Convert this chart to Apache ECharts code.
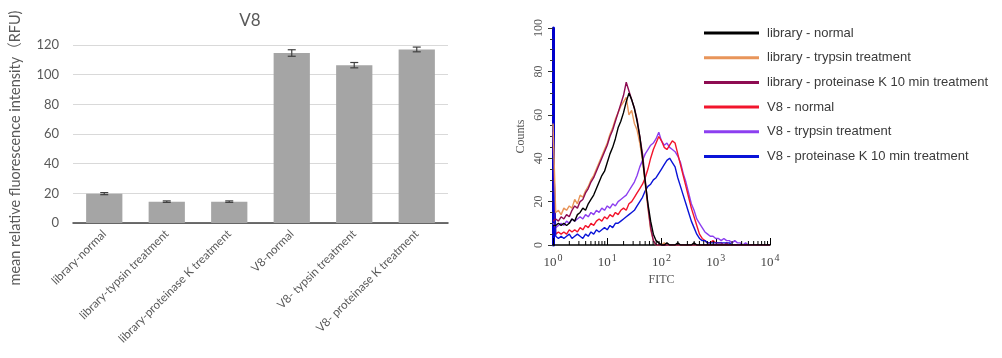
<!DOCTYPE html>
<html>
<head>
<meta charset="utf-8">
<title>V8</title>
<script src="https://cdn.jsdelivr.net/npm/echarts@6/dist/echarts.min.js"></script>
<style>
  html, body { margin: 0; padding: 0; background: #fff; }
  #chart { width: 1002px; height: 358px; }
</style>
</head>
<body>
<div id="chart"></div>
<script>
// left panel: mean fluorescence with error bars
const barCategories = [
  'library-normal',
  'library-typsin treatment',
  'library-proteinase K treatment',
  'V8-normal',
  'V8- typsin treatment',
  'V8- proteinase K treatment'
];
const barMeans = [19.8, 14.4, 14.4, 114.6, 106.4, 117.0];
const barErrors = [0.7, 0.5, 0.5, 2.2, 1.8, 1.6];

// right panel: flow histograms, x in decades (log10 FITC)
const fitcLog = [
  0, 0.05, 0.1, 0.15, 0.2, 0.25, 0.3, 0.35, 0.4, 0.45,
  0.5, 0.55, 0.6, 0.65, 0.7, 0.75, 0.8, 0.85, 0.9, 0.95,
  1, 1.05, 1.1, 1.15, 1.2, 1.25, 1.3, 1.35, 1.4, 1.45,
  1.5, 1.55, 1.6, 1.65, 1.7, 1.75, 1.8, 1.85, 1.9, 1.95,
  2, 2.05, 2.1, 2.15, 2.2, 2.25, 2.3, 2.35, 2.4, 2.45,
  2.5, 2.55, 2.6, 2.65, 2.7, 2.75, 2.8, 2.85, 2.9, 2.95,
  3, 3.05, 3.1, 3.15, 3.2, 3.25, 3.3, 3.35, 3.4, 3.45,
  3.5, 3.55, 3.6, 3.65, 3.7, 3.75, 3.8, 3.85, 3.9, 3.95,
  4
];
const fitcExponents = ['0', '1', '2', '3', '4'];

const libNormal = [
  9, 9, 10, 9, 10, 9, 10, 12, 11, 14,
  15, 17, 16, 19, 21, 23, 26, 29, 32, 34,
  38, 42, 45, 49, 54, 57, 61, 66, 70, 67,
  63, 57, 50, 40, 29, 19, 11, 5, 2, 1,
  0, 0, 1, 0, 0, 0, 1, 0, 0, 0,
  0, 0, 1, 0, 0, 0, 0, 0, 0, 0,
  0, 0, 0, 0, 0, 0, 0, 0, 0, 0,
  0, 0, 0, 0, 0, 0, 0, 0, 0, 0,
  0
];
const libTrypsin = [
  56, 15, 16, 14, 17, 16, 18, 17, 21, 19,
  23, 22, 25, 27, 30, 32, 35, 38, 41, 44,
  47, 51, 54, 58, 61, 64, 66, 68, 60, 62,
  56, 53, 47, 39, 28, 17, 7, 2, 0, 0,
  0, 1, 0, 0, 0, 0, 0, 0, 0, 0,
  0, 0, 0, 0, 0, 0, 0, 0, 0, 0,
  0, 0, 0, 0, 0, 0, 0, 0, 0, 0,
  0, 0, 0, 0, 0, 0, 0, 0, 0, 0,
  0
];
const libProtK = [
  11, 12, 11, 13, 12, 14, 13, 16, 18, 17,
  20, 21, 24, 26, 29, 31, 34, 37, 40, 43,
  46, 50, 53, 57, 61, 65, 69, 75, 71, 67,
  63, 58, 50, 42, 30, 18, 8, 2, 0, 0,
  0, 0, 0, 0, 0, 0, 0, 0, 0, 0,
  0, 0, 0, 0, 0, 0, 0, 0, 0, 0,
  0, 0, 0, 0, 0, 0, 0, 0, 0, 0,
  0, 0, 0, 0, 0, 0, 0, 0, 0, 0,
  0
];
const v8Normal = [
  52, 5, 6, 5, 6, 5, 7, 6, 7, 6,
  8, 7, 9, 8, 10, 9, 11, 12, 11, 13,
  12, 14, 13, 15, 14, 16, 17, 16, 19, 20,
  22, 24, 26, 28, 31, 35, 40, 44, 47, 50,
  48, 45, 44, 46, 48, 47, 42, 37, 32, 27,
  22, 17, 13, 9, 5, 3, 2, 1, 1, 2,
  1, 1, 1, 0, 1, 0, 0, 0, 0, 0,
  0, 0, 0, 0, 0, 0, 0, 0, 0, 0,
  0
];
const v8Trypsin = [
  10, 8, 9, 10, 9, 11, 10, 12, 11, 12,
  13, 12, 14, 13, 15, 14, 16, 15, 17, 16,
  18, 17, 19, 18, 20, 21, 22, 23, 25, 27,
  29, 32, 36, 39, 42, 44, 46, 47, 49, 52,
  48, 46, 47, 45, 44, 43, 41, 38, 33, 29,
  24, 19, 16, 12, 10, 8, 6, 5, 4, 4,
  3, 3, 2, 3, 2, 2, 1, 2, 1, 1,
  0, 1, 0, 0, 0, 0, 0, 0, 0, 0,
  0
];
const v8ProtK = [
  52, 4, 3, 4, 3, 4, 5, 3, 4, 5,
  4, 3, 5, 4, 6, 5, 7, 6, 7, 8,
  7, 9, 8, 10, 10, 11, 12, 13, 14, 15,
  16, 18, 20, 22, 25, 27, 28, 30, 31, 33,
  35, 37, 39, 40, 38, 36, 31, 27, 23, 19,
  15, 11, 8, 5, 3, 2, 2, 1, 1, 1,
  1, 1, 1, 1, 1, 1, 0, 0, 0, 0,
  0, 0, 0, 0, 0, 0, 0, 0, 0, 0,
  0
];

const histSeries = [
  { name: 'library - normal', values: libNormal, color: '#000000', z: 8 },
  { name: 'library - trypsin treatment', values: libTrypsin, color: '#e8955a', z: 6 },
  { name: 'library - proteinase K 10 min treatment', values: libProtK, color: '#8e0c52', z: 7 },
  { name: 'V8 - normal', values: v8Normal, color: '#f2152c', z: 4 },
  { name: 'V8 - trypsin treatment', values: v8Trypsin, color: '#8c3ff0', z: 3 },
  { name: 'V8 - proteinase K 10 min treatment', values: v8ProtK, color: '#0a14d8', z: 5 }
];

// minor ticks of the log axis (2..9 in each decade)
const minorTicks = [];
for (let d = 0; d < 4; d++) {
  for (let k = 2; k <= 9; k++) minorTicks.push([d + Math.log10(k), 0]);
}

const chart = echarts.init(document.getElementById('chart'));
const grayText = '#595959';
const sans = 'Lato, "Noto Sans CJK SC", sans-serif';
const serif = '"Liberation Serif", "DejaVu Serif", serif';

const option = {
  animation: false,
  title: {
    text: 'V8',
    left: 245,
    top: 7,
    textAlign: 'center',
    textStyle: { fontSize: 17, fontWeight: 'normal', color: grayText, fontFamily: sans }
  },
  legend: {
    data: histSeries.map(s => s.name),
    orient: 'vertical',
    left: 704,
    top: 26,
    padding: 0,
    icon: 'rect',
    itemWidth: 55,
    itemHeight: 3,
    itemGap: 10.7,
    textStyle: { fontSize: 13, lineHeight: 14, color: '#3a3a3a', fontFamily: '"Liberation Sans", Arial, sans-serif', padding: [0, 0, 0, 3] }
  },
  grid: [
    { left: 73, right: 554, top: 45, bottom: 135 },
    { left: 553, right: 232, top: 28, bottom: 113 }
  ],
  xAxis: [
    {
      gridIndex: 0,
      type: 'category',
      data: barCategories,
      axisLine: { lineStyle: { color: '#404040', width: 1.5 } },
      axisTick: { show: false },
      axisLabel: { interval: 0, rotate: 45, margin: 9, fontSize: 11.6, color: grayText, fontFamily: sans }
    },
    {
      gridIndex: 1,
      type: 'value',
      min: 0,
      max: 4,
      interval: 1,
      name: 'FITC',
      nameLocation: 'middle',
      nameGap: 22,
      nameTextStyle: { fontSize: 12, color: '#555', fontFamily: serif },
      axisLine: { lineStyle: { color: '#000', width: 1.5 } },
      axisTick: { inside: true, length: 7, lineStyle: { color: '#000' } },
      splitLine: { show: false },
      axisLabel: {
        margin: 8,
        formatter: v => '{b|10}{s|' + fitcExponents[Math.round(v)] + '}',
        rich: {
          b: { fontSize: 13, color: '#444', fontFamily: serif },
          s: { fontSize: 10, color: '#444', fontFamily: serif, padding: [0, 0, 9, 1] }
        }
      }
    }
  ],
  yAxis: [
    {
      gridIndex: 0,
      type: 'value',
      min: 0,
      max: 120,
      interval: 20,
      name: 'mean relative fluorescence intensity（RFU)',
      nameLocation: 'middle',
      nameGap: 50,
      nameTextStyle: { fontSize: 14.5, color: grayText, fontFamily: sans, padding: [0, 28, 0, 0] },
      axisLine: { show: false },
      axisTick: { show: false },
      splitLine: { lineStyle: { color: '#d9d9d9', width: 1 } },
      axisLabel: { margin: 14, fontSize: 13, color: grayText, fontFamily: sans }
    },
    {
      gridIndex: 1,
      type: 'value',
      min: 0,
      max: 100,
      interval: 20,
      name: 'Counts',
      nameLocation: 'middle',
      nameGap: 26,
      nameTextStyle: { fontSize: 12, color: '#555', fontFamily: serif },
      axisLine: { lineStyle: { color: '#0000cc', width: 3 } },
      axisTick: { length: 5, lineStyle: { color: '#333' } },
      minorTick: { show: true, splitNumber: 4, length: 3, lineStyle: { color: '#333' } },
      splitLine: { show: false },
      axisLabel: { rotate: 90, margin: 8, fontSize: 12, color: '#555', fontFamily: serif }
    }
  ],
  series: [
    {
      type: 'bar',
      xAxisIndex: 0,
      yAxisIndex: 0,
      data: barMeans,
      barWidth: '58%',
      itemStyle: { color: '#a5a5a5' },
      silent: true
    },
    {
      type: 'custom',
      xAxisIndex: 0,
      yAxisIndex: 0,
      silent: true,
      z: 5,
      data: barMeans.map((m, i) => [i, m - barErrors[i], m + barErrors[i]]),
      renderItem: (params, api) => {
        const lo = api.coord([api.value(0), api.value(1)]);
        const hi = api.coord([api.value(0), api.value(2)]);
        const w = 4;
        const st = { stroke: '#404040', lineWidth: 1.2 };
        return {
          type: 'group',
          children: [
            { type: 'line', shape: { x1: lo[0], y1: lo[1], x2: hi[0], y2: hi[1] }, style: st },
            { type: 'line', shape: { x1: lo[0] - w, y1: lo[1], x2: lo[0] + w, y2: lo[1] }, style: st },
            { type: 'line', shape: { x1: hi[0] - w, y1: hi[1], x2: hi[0] + w, y2: hi[1] }, style: st }
          ]
        };
      }
    },
    ...histSeries.map(s => ({
      name: s.name,
      type: 'line',
      xAxisIndex: 1,
      yAxisIndex: 1,
      showSymbol: false,
      symbol: 'none',
      z: s.z,
      color: s.color,
      lineStyle: { color: s.color, width: 1.4 },
      data: fitcLog.map((x, i) => [x, s.values[i]])
    })),
    {
      type: 'custom',
      xAxisIndex: 1,
      yAxisIndex: 1,
      silent: true,
      z: 10,
      data: minorTicks,
      renderItem: (params, api) => {
        const p = api.coord([api.value(0), 0]);
        return {
          type: 'line',
          shape: { x1: p[0], y1: p[1], x2: p[0], y2: p[1] - 4 },
          style: { stroke: '#000', lineWidth: 1 }
        };
      }
    }
  ]
};

chart.setOption(option);
</script>
</body>
</html>
